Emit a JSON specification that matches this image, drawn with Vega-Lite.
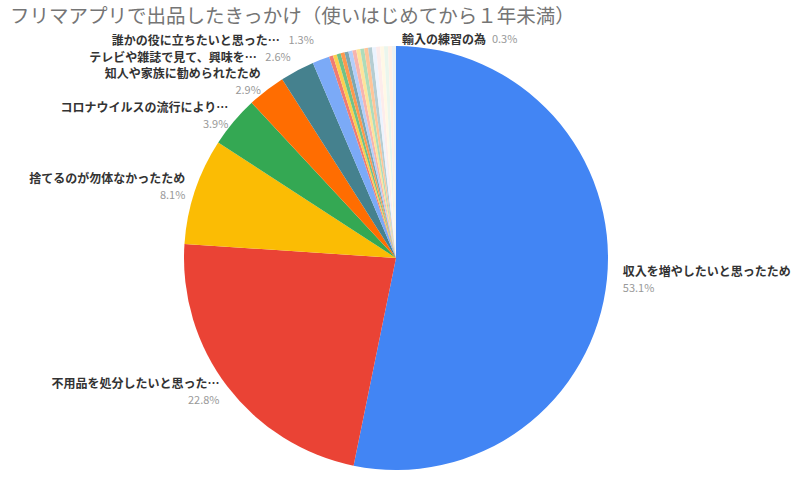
{
  "$schema": "https://vega.github.io/schema/vega-lite/v6.json",
  "width": 792,
  "height": 446,
  "autosize": {"type": "none"},
  "padding": {"top": 35, "left": 0, "right": 8, "bottom": 0},
  "background": "white",
  "title": {
    "text": "フリマアプリで出品したきっかけ（使いはじめてから１年未満）",
    "anchor": "start",
    "dx": 10,
    "offset": -12,
    "fontSize": 19.5,
    "font": "Noto Sans CJK JP",
    "fontWeight": "normal",
    "color": "#757575"
  },
  "config": {"view": {"stroke": null}},
  "data": {
    "values": [
      {"rank": 1, "name": "収入を増やしたいと思ったため", "share": 0.531},
      {"rank": 2, "name": "不用品を処分したいと思った…", "share": 0.228},
      {"rank": 3, "name": "捨てるのが勿体なかったため", "share": 0.081},
      {"rank": 4, "name": "コロナウイルスの流行により…", "share": 0.039},
      {"rank": 5, "name": "知人や家族に勧められたため", "share": 0.029},
      {"rank": 6, "name": "テレビや雑誌で見て、興味を…", "share": 0.026},
      {"rank": 7, "name": "誰かの役に立ちたいと思った…", "share": 0.013},
      {"rank": 8, "name": "その他1", "share": 0.003},
      {"rank": 9, "name": "その他2", "share": 0.003},
      {"rank": 10, "name": "その他3", "share": 0.003},
      {"rank": 11, "name": "その他4", "share": 0.003},
      {"rank": 12, "name": "その他5", "share": 0.003},
      {"rank": 13, "name": "その他6", "share": 0.003},
      {"rank": 14, "name": "その他7", "share": 0.003},
      {"rank": 15, "name": "その他8", "share": 0.003},
      {"rank": 16, "name": "その他9", "share": 0.003},
      {"rank": 17, "name": "その他10", "share": 0.003},
      {"rank": 18, "name": "その他11", "share": 0.003},
      {"rank": 19, "name": "その他12", "share": 0.003},
      {"rank": 20, "name": "その他13", "share": 0.003},
      {"rank": 21, "name": "その他14", "share": 0.003},
      {"rank": 22, "name": "その他15", "share": 0.003},
      {"rank": 23, "name": "その他16", "share": 0.003},
      {"rank": 24, "name": "輸入の練習の為", "share": 0.003}
    ]
  },
  "encoding": {
    "theta": {"field": "share", "type": "quantitative", "stack": true},
    "order": {"field": "rank", "type": "quantitative"},
    "detail": {"field": "name", "type": "nominal"}
  },
  "layer": [
    {
      "mark": {"type": "arc", "outerRadius": 212},
      "encoding": {
        "color": {
          "field": "name",
          "type": "nominal",
          "legend": null,
          "sort": null,
          "scale": {
            "domain": ["収入を増やしたいと思ったため", "不用品を処分したいと思った…", "捨てるのが勿体なかったため", "コロナウイルスの流行により…", "知人や家族に勧められたため", "テレビや雑誌で見て、興味を…", "誰かの役に立ちたいと思った…", "その他1", "その他2", "その他3", "その他4", "その他5", "その他6", "その他7", "その他8", "その他9", "その他10", "その他11", "その他12", "その他13", "その他14", "その他15", "その他16", "輸入の練習の為"],
            "range": ["#4285F4", "#EA4335", "#FBBC04", "#34A853", "#FF6D01", "#45818E", "#7BAAF7", "#F07B72", "#FCD04F", "#71C287", "#FF994D", "#7DA7B0", "#B3CEFB", "#F7B4AE", "#FDE49B", "#AEDCBA", "#FFC599", "#B5CDD2", "#ECF3FE", "#FDECEB", "#FFF8E6", "#EAF6ED", "#FFF0E6", "#ECF2F3"]
          }
        }
      }
    },
    {
      "mark": {"type": "text", "radius": 228, "align": "left", "baseline": "middle", "dy": -9, "fontSize": 12, "fontWeight": "bold", "font": "Noto Sans CJK JP", "color": "#333333"},
      "encoding": {"text": {"condition": {"test": "datum.rank === 1", "field": "name"}, "value": ""}}
    },
    {
      "mark": {"type": "text", "radius": 228, "align": "left", "baseline": "middle", "dy": 8, "fontSize": 11, "font": "Noto Sans CJK JP", "color": "#999999"},
      "encoding": {"text": {"condition": {"test": "datum.rank === 1", "field": "share", "type": "quantitative", "format": ".1%"}, "value": ""}}
    },
    {
      "mark": {"type": "text", "radius": 222, "align": "right", "baseline": "middle", "dy": -9, "fontSize": 12, "fontWeight": "bold", "font": "Noto Sans CJK JP", "color": "#333333"},
      "encoding": {"text": {"condition": {"test": "datum.rank === 2 || datum.rank === 3", "field": "name"}, "value": ""}}
    },
    {
      "mark": {"type": "text", "radius": 222, "align": "right", "baseline": "middle", "dy": 8, "fontSize": 11, "font": "Noto Sans CJK JP", "color": "#999999"},
      "encoding": {"text": {"condition": {"test": "datum.rank === 2 || datum.rank === 3", "field": "share", "type": "quantitative", "format": ".1%"}, "value": ""}}
    },
    {
      "mark": {"type": "text", "radius": 219, "align": "right", "baseline": "middle", "dy": -9, "fontSize": 12, "fontWeight": "bold", "font": "Noto Sans CJK JP", "color": "#333333"},
      "encoding": {"text": {"condition": {"test": "datum.rank === 4", "field": "name"}, "value": ""}}
    },
    {
      "mark": {"type": "text", "radius": 219, "align": "right", "baseline": "middle", "dy": 8, "fontSize": 11, "font": "Noto Sans CJK JP", "color": "#999999"},
      "encoding": {"text": {"condition": {"test": "datum.rank === 4", "field": "share", "type": "quantitative", "format": ".1%"}, "value": ""}}
    },
    {
      "mark": {"type": "text", "radius": 221, "align": "right", "baseline": "middle", "dy": -9, "fontSize": 12, "fontWeight": "bold", "font": "Noto Sans CJK JP", "color": "#333333"},
      "encoding": {"text": {"condition": {"test": "datum.rank === 5", "field": "name"}, "value": ""}}
    },
    {
      "mark": {"type": "text", "radius": 221, "align": "right", "baseline": "middle", "dy": 8, "fontSize": 11, "font": "Noto Sans CJK JP", "color": "#999999"},
      "encoding": {"text": {"condition": {"test": "datum.rank === 5", "field": "share", "type": "quantitative", "format": ".1%"}, "value": ""}}
    },
    {
      "mark": {"type": "text", "radius": 226, "align": "right", "baseline": "middle", "dx": -34, "fontSize": 12, "fontWeight": "bold", "font": "Noto Sans CJK JP", "color": "#333333"},
      "encoding": {"text": {"condition": {"test": "datum.rank === 6", "field": "name"}, "value": ""}}
    },
    {
      "mark": {"type": "text", "radius": 226, "align": "right", "baseline": "middle", "fontSize": 11, "font": "Noto Sans CJK JP", "color": "#999999"},
      "encoding": {"text": {"condition": {"test": "datum.rank === 6", "field": "share", "type": "quantitative", "format": ".1%"}, "value": ""}}
    },
    {
      "mark": {"type": "text", "radius": 232, "align": "right", "baseline": "middle", "dx": -34, "fontSize": 12, "fontWeight": "bold", "font": "Noto Sans CJK JP", "color": "#333333"},
      "encoding": {"text": {"condition": {"test": "datum.rank === 7", "field": "name"}, "value": ""}}
    },
    {
      "mark": {"type": "text", "radius": 232, "align": "right", "baseline": "middle", "fontSize": 11, "font": "Noto Sans CJK JP", "color": "#999999"},
      "encoding": {"text": {"condition": {"test": "datum.rank === 7", "field": "share", "type": "quantitative", "format": ".1%"}, "value": ""}}
    },
    {
      "mark": {"type": "text", "radius": 218, "align": "left", "baseline": "middle", "dx": 8, "fontSize": 12, "fontWeight": "bold", "font": "Noto Sans CJK JP", "color": "#333333"},
      "encoding": {"text": {"condition": {"test": "datum.rank === 24", "field": "name"}, "value": ""}}
    },
    {
      "mark": {"type": "text", "radius": 218, "align": "left", "baseline": "middle", "dx": 98, "fontSize": 11, "font": "Noto Sans CJK JP", "color": "#999999"},
      "encoding": {"text": {"condition": {"test": "datum.rank === 24", "field": "share", "type": "quantitative", "format": ".1%"}, "value": ""}}
    }
  ]
}
